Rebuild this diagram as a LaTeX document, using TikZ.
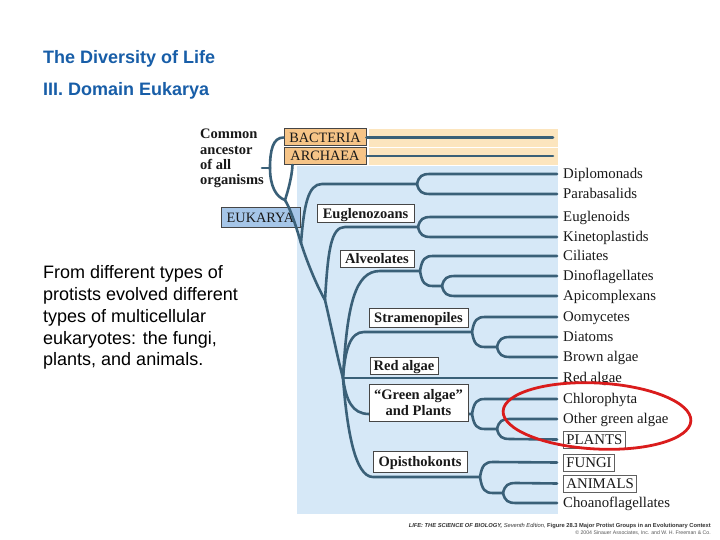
\documentclass[tikz,border=0pt]{standalone}
\usepackage{fontspec}
\setmainfont{Liberation Serif}
\newfontfamily\sansf{Liberation Sans}
\definecolor{treec}{RGB}{58,96,120}
\definecolor{bluebg}{RGB}{214,232,247}
\definecolor{bandc}{RGB}{252,229,190}
\definecolor{orbox}{RGB}{246,196,135}
\definecolor{eukbox}{RGB}{166,198,232}
\definecolor{titlec}{RGB}{24,94,168}
\definecolor{ellc}{RGB}{218,28,28}
\definecolor{darkt}{RGB}{25,25,25}
\definecolor{boxc}{RGB}{70,70,70}
\begin{document}
\begin{tikzpicture}[x=1pt,y=-1pt,
  br/.style={draw=treec, line width=2.6pt, line cap=round},
  leaf/.style={anchor=west, inner sep=0pt, text height=9.8pt, text depth=0pt,
    font=\fontsize{14.8}{16}\selectfont, text=darkt},
  leafbox/.style={anchor=west, draw=gray!75!black, line width=0.8pt, fill=white,
    inner xsep=3pt, inner ysep=3.6pt, text height=9.8pt, text depth=0pt,
    font=\fontsize{14.8}{16}\selectfont, text=darkt},
  grp/.style={draw=boxc, line width=1pt, fill=white, inner sep=0pt,
    text height=9.8pt, text depth=0pt, font=\bfseries\fontsize{14.5}{16}\selectfont, text=darkt},
  dombox/.style={draw=boxc, line width=1pt, inner sep=0pt, text height=9.8pt, text depth=0pt,
    font=\fontsize{14.3}{16}\selectfont, text=darkt},
  ttl/.style={anchor=base west, inner sep=0pt, font=\sansf\bfseries\fontsize{18}{21}\selectfont, text=titlec},
  body/.style={anchor=base west, inner sep=0pt, font=\sansf\fontsize{18}{21}\selectfont, text=black},
  anc/.style={anchor=base west, inner sep=0pt, font=\bfseries\fontsize{14.5}{16}\selectfont, text=darkt},
]
\useasboundingbox (0,0) rectangle (720,540);
\fill[white] (0,0) rectangle (720,540);

% titles and text
\node[ttl] (t1) at (43,64) {The Diversity of Life};
\node[ttl] (t2) at (43,96) {III. Domain Eukarya};
\node[body] (l1) at (43,278) {From different types of};
\node[body] (l2) at (43,300) {protists evolved different};
\node[body] (l3) at (43,322) {types of multicellular};
\node[body] (l4) at (43,344) {eukaryotes: the fungi,};
\node[body] (l5) at (43,365.5) {plants, and animals.};

% backgrounds
\fill[bluebg] (297,166) rectangle (558,514);
\fill[bandc] (369,129) rectangle (558,147);
\fill[bandc] (369,148) rectangle (558,165);

% common ancestor text
\node[anc] (a1) at (200,139) {Common};
\node[anc] (a2) at (200,154.5) {ancestor};
\node[anc] (a3) at (200,170) {of all};
\node[anc] (a4) at (200,185) {organisms};

% domain boxes
\node[dombox, fill=orbox, minimum width=82pt, minimum height=17pt] (BAC) at (325,137.5) {BACTERIA};
\node[dombox, fill=orbox, minimum width=82pt, minimum height=17pt] (ARC) at (325,156) {ARCHAEA};
\node[dombox, fill=eukbox, minimum width=79pt, minimum height=20pt] (EUK) at (260.5,218) {EUKARYA};

% leaves
\node[leaf] (Dip) at (563,174) {Diplomonads};
\node[leaf] (Par) at (563,194) {Parabasalids};
\node[leaf] (Eug) at (563,217) {Euglenoids};
\node[leaf] (Kin) at (563,237) {Kinetoplastids};
\node[leaf] (Cil) at (563,256) {Ciliates};
\node[leaf] (Din) at (563,276) {Dinoflagellates};
\node[leaf] (Api) at (563,296) {Apicomplexans};
\node[leaf] (Oom) at (563,317) {Oomycetes};
\node[leaf] (Dia) at (563,337) {Diatoms};
\node[leaf] (Bro) at (563,357) {Brown algae};
\node[leaf] (Red) at (563,378) {Red algae};
\node[leaf] (Chl) at (563,399) {Chlorophyta};
\node[leaf] (Oth) at (563,419) {Other green algae};
\node[leafbox] (Pla) at (563,439.5) {PLANTS};
\node[leafbox] (Fun) at (563,462.5) {FUNGI};
\node[leafbox] (Ani) at (563,483.5) {ANIMALS};
\node[leaf] (Cho) at (563,503) {Choanoflagellates};

% branch points
\coordinate (S) at (262,168);
\coordinate (R) at (270,168);
\coordinate (A) at (285,200);
\coordinate (E) at (301,243);
\coordinate (N2) at (325,300);
\coordinate (N3) at (343,378);
\coordinate (D1) at (417,184);
\coordinate (D2) at (418,227);
\coordinate (D3) at (420,271);
\coordinate (D3b) at (442,286);
\coordinate (D4) at (472,332);
\coordinate (D4b) at (497,347);
\coordinate (D5) at (472,414);
\coordinate (D5b) at (497,429);
\coordinate (D6) at (480,477);
\coordinate (D6b) at (503,493);
\coordinate (bacE) at (553,137.5);
\coordinate (arcE) at (553,156);

% prokaryote branches
\draw[br] (S) -- (R);
\draw[br] (R) .. controls (270,150) and (273,137.5) .. (BAC.west);
\draw[br] (R) .. controls (270,186) and (276,197) .. (A);
\draw[br] (A) .. controls (289,188) and (292,175) .. ([xshift=9pt]ARC.south west);
\draw[br] (A) .. controls (292,212) and (297,230) .. (E);
\draw[br] (BAC.east) -- (bacE);
\draw[br] (ARC.east) -- (arcE);

% eukaryote trunk
\draw[br] (E) .. controls (304,205) and (308,184) .. (322,184) -- (D1);
\draw[br] (E) .. controls (308,265) and (318,288) .. (N2);
\draw[br] (N2) .. controls (328,250) and (331,227) .. (345,227) -- (D2);
\draw[br] (N2) .. controls (332,330) and (338,360) .. (N3);
\draw[br] (N3) .. controls (347,305) and (355,271) .. (380,271) -- (D3);
\draw[br] (N3) .. controls (345,350) and (350,332) .. (364,332) -- (D4);
\draw[br] (N3) -- ([xshift=-6pt]Red.west);
\draw[br] (N3) .. controls (346,400) and (352,414) .. (369,414) -- (D5);
\draw[br] (N3) .. controls (347,430) and (355,477) .. (373,477) -- (D6);

% forks
\draw[br] (D1) .. controls (419,176) and (422,174) .. (430,174) -- ([xshift=-6pt]Dip.west);
\draw[br] (D1) .. controls (419,192) and (422,194) .. (430,194) -- ([xshift=-6pt]Par.west);
\draw[br] (D2) .. controls (420,219) and (423,217) .. (431,217) -- ([xshift=-6pt]Eug.west);
\draw[br] (D2) .. controls (420,235) and (423,237) .. (431,237) -- ([xshift=-6pt]Kin.west);
\draw[br] (D3) .. controls (422,259) and (425,256) .. (433,256) -- ([xshift=-6pt]Cil.west);
\draw[br] (D3) .. controls (422,283) and (425,286) .. (433,286) -- (D3b);
\draw[br] (D3b) .. controls (444,278) and (447,276) .. (455,276) -- ([xshift=-6pt]Din.west);
\draw[br] (D3b) .. controls (444,294) and (447,296) .. (455,296) -- ([xshift=-6pt]Api.west);
\draw[br] (D4) .. controls (474,320) and (477,317) .. (485,317) -- ([xshift=-6pt]Oom.west);
\draw[br] (D4) .. controls (474,344) and (477,347) .. (485,347) -- (D4b);
\draw[br] (D4b) .. controls (499,339) and (502,337) .. (510,337) -- ([xshift=-6pt]Dia.west);
\draw[br] (D4b) .. controls (499,355) and (502,357) .. (510,357) -- ([xshift=-6pt]Bro.west);
\draw[br] (D5) .. controls (474,402) and (477,399) .. (485,399) -- ([xshift=-6pt]Chl.west);
\draw[br] (D5) .. controls (474,426) and (477,429) .. (485,429) -- (D5b);
\draw[br] (D5b) .. controls (499,421) and (502,419) .. (510,419) -- ([xshift=-6pt]Oth.west);
\draw[br] (D5b) .. controls (499,437) and (502,439) .. (510,439) -- ([xshift=-6pt]Pla.west);
\draw[br] (D6) .. controls (482,465) and (485,462) .. (493,462) -- ([xshift=-6pt]Fun.west);
\draw[br] (D6) .. controls (482,490) and (485,493) .. (493,493) -- (D6b);
\draw[br] (D6b) .. controls (505,485) and (508,483) .. (516,483) -- ([xshift=-6pt]Ani.west);
\draw[br] (D6b) .. controls (505,501) and (508,503) .. (516,503) -- ([xshift=-6pt]Cho.west);

% group boxes
\node[grp, minimum width=97pt, minimum height=18pt] (gEug) at (365.5,214) {Euglenozoans};
\node[grp, minimum width=74pt, minimum height=17pt] (gAlv) at (377,258.5) {Alveolates};
\node[grp, minimum width=99pt, minimum height=19pt] (gStr) at (418.5,317.5) {Stramenopiles};
\node[grp, minimum width=68pt, minimum height=17pt] (gRed) at (404,365.5) {Red algae};
\node[grp, minimum width=99pt, minimum height=37pt, align=center, text height=, text depth=,
  font=\bfseries\fontsize{14.5}{15.5}\selectfont] (gGre) at (418.5,402.5) {“Green algae”\\and Plants};
\node[grp, minimum width=94pt, minimum height=21pt] (gOpi) at (420,461.5) {Opisthokonts};

% footer
\node[anchor=base east, inner sep=0pt, font=\sansf\fontsize{5.75}{6}\selectfont, text=black!80] (f1) at (711,527)
  {\bfseries\itshape LIFE: THE SCIENCE OF BIOLOGY,\mdseries\ Seventh Edition,\upshape\bfseries\ Figure 28.3 Major Protist Groups in an Evolutionary Context};
\node[anchor=base east, inner sep=0pt, font=\sansf\fontsize{5.2}{6}\selectfont, text=black!65] (f2) at (711,534)
  {© 2004 Sinauer Associates, Inc. and W. H. Freeman \& Co.};

% red ellipse
\draw[ellc, line width=2.8pt, rotate around={-3:(597,416)}] (597,416) ellipse [x radius=94pt, y radius=33pt];
\end{tikzpicture}
\end{document}
